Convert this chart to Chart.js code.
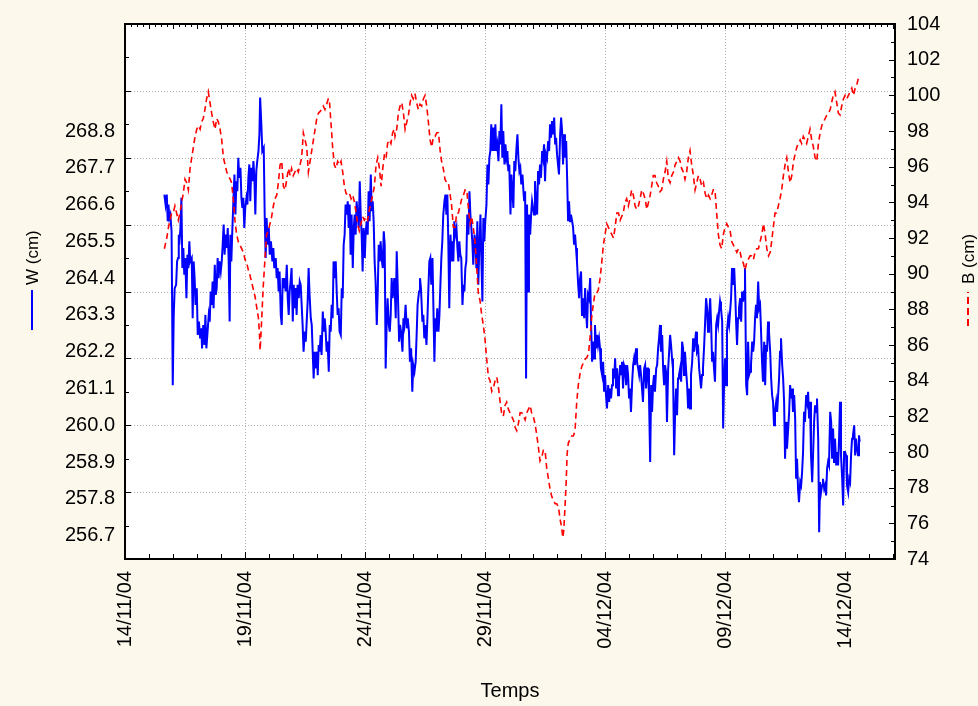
<!DOCTYPE html>
<html>
<head>
<meta charset="utf-8">
<title>W et B</title>
<script src="https://cdn.jsdelivr.net/npm/chart.js@4.4.1/dist/chart.umd.min.js"></script>
<style>
    html, body { margin: 0; padding: 0; background: #fcf8ec; }
    #wrap { width: 978px; height: 706px; }
</style>
</head>
<body>
<div id="wrap"><canvas id="chart" width="978" height="706"></canvas></div>
<script>
// temps en jours depuis le 14/11/04 00:00
const wTime = [
    1.64, 1.69, 1.74, 1.78, 1.81, 1.85, 1.89, 1.94, 1.99, 2.03,
    2.07, 2.13, 2.17, 2.21, 2.24, 2.26, 2.31, 2.35, 2.39, 2.43,
    2.47, 2.51, 2.56, 2.60, 2.64, 2.68, 2.72, 2.78, 2.82, 2.86,
    2.90, 2.94, 2.99, 3.03, 3.08, 3.13, 3.18, 3.21, 3.26, 3.31,
    3.35, 3.39, 3.44, 3.49, 3.53, 3.57, 3.61, 3.65, 3.69, 3.74,
    3.78, 3.82, 3.86, 3.90, 3.94, 3.99, 4.03, 4.07, 4.11, 4.15,
    4.19, 4.24, 4.28, 4.32, 4.36, 4.39, 4.43, 4.47, 4.51, 4.56,
    4.60, 4.64, 4.68, 4.72, 4.76, 4.81, 4.85, 4.89, 4.93, 4.97,
    5.01, 5.06, 5.10, 5.14, 5.18, 5.22, 5.26, 5.31, 5.35, 5.39,
    5.43, 5.47, 5.51, 5.56, 5.60, 5.63, 5.68, 5.72, 5.78, 5.82,
    5.86, 5.90, 5.94, 5.99, 6.03, 6.08, 6.14, 6.18, 6.22, 6.28,
    6.32, 6.36, 6.40, 6.44, 6.49, 6.53, 6.57, 6.61, 6.65, 6.69,
    6.74, 6.78, 6.82, 6.86, 6.90, 6.94, 6.99, 7.03, 7.07, 7.11,
    7.15, 7.19, 7.24, 7.28, 7.32, 7.36, 7.40, 7.44, 7.49, 7.53,
    7.57, 7.61, 7.65, 7.69, 7.74, 7.78, 7.82, 7.86, 7.90, 7.94,
    7.99, 8.03, 8.07, 8.11, 8.15, 8.19, 8.24, 8.28, 8.32, 8.36,
    8.40, 8.44, 8.49, 8.53, 8.57, 8.61, 8.65, 8.69, 8.74, 8.78,
    8.82, 8.86, 8.90, 8.94, 8.99, 9.03, 9.07, 9.11, 9.15, 9.19,
    9.24, 9.28, 9.32, 9.36, 9.40, 9.44, 9.49, 9.53, 9.57, 9.61,
    9.65, 9.69, 9.74, 9.78, 9.82, 9.86, 9.90, 9.94, 9.99, 10.03,
    10.07, 10.11, 10.15, 10.19, 10.24, 10.28, 10.32, 10.36, 10.40, 10.44,
    10.49, 10.53, 10.57, 10.61, 10.65, 10.69, 10.74, 10.78, 10.82, 10.86,
    10.90, 10.94, 10.99, 11.03, 11.07, 11.11, 11.15, 11.22, 11.28, 11.32,
    11.36, 11.42, 11.46, 11.50, 11.56, 11.60, 11.64, 11.69, 11.74, 11.78,
    11.83, 11.87, 11.92, 11.97, 12.01, 12.06, 12.11, 12.15, 12.19, 12.25,
    12.29, 12.33, 12.39, 12.43, 12.47, 12.51, 12.56, 12.60, 12.64, 12.68,
    12.72, 12.76, 12.81, 12.85, 12.89, 12.93, 12.97, 13.01, 13.06, 13.10,
    13.14, 13.18, 13.22, 13.26, 13.31, 13.35, 13.39, 13.43, 13.47, 13.51,
    13.56, 13.60, 13.64, 13.68, 13.72, 13.76, 13.81, 13.85, 13.89, 13.93,
    13.97, 14.01, 14.06, 14.10, 14.14, 14.18, 14.22, 14.26, 14.31, 14.35,
    14.39, 14.43, 14.47, 14.51, 14.56, 14.60, 14.64, 14.68, 14.72, 14.76,
    14.81, 14.85, 14.89, 14.93, 14.97, 15.01, 15.06, 15.10, 15.14, 15.18,
    15.22, 15.26, 15.31, 15.35, 15.39, 15.43, 15.47, 15.51, 15.56, 15.60,
    15.64, 15.68, 15.72, 15.76, 15.81, 15.85, 15.89, 15.93, 15.97, 16.01,
    16.06, 16.10, 16.14, 16.18, 16.22, 16.26, 16.31, 16.35, 16.39, 16.43,
    16.47, 16.51, 16.56, 16.60, 16.63, 16.67, 16.71, 16.75, 16.79, 16.83,
    16.88, 16.92, 16.96, 17.00, 17.04, 17.08, 17.13, 17.17, 17.21, 17.25,
    17.29, 17.33, 17.38, 17.42, 17.46, 17.50, 17.54, 17.58, 17.63, 17.67,
    17.71, 17.75, 17.79, 17.83, 17.88, 17.92, 17.96, 18.00, 18.04, 18.08,
    18.13, 18.17, 18.21, 18.25, 18.29, 18.33, 18.38, 18.42, 18.46, 18.50,
    18.54, 18.58, 18.63, 18.67, 18.71, 18.75, 18.79, 18.83, 18.88, 18.92,
    18.96, 19.00, 19.04, 19.08, 19.13, 19.17, 19.21, 19.25, 19.29, 19.33,
    19.38, 19.42, 19.46, 19.50, 19.54, 19.58, 19.63, 19.67, 19.71, 19.75,
    19.79, 19.83, 19.88, 19.92, 19.96, 20.00, 20.04, 20.08, 20.13, 20.17,
    20.21, 20.25, 20.29, 20.33, 20.38, 20.42, 20.46, 20.50, 20.54, 20.58,
    20.63, 20.67, 20.71, 20.75, 20.79, 20.83, 20.88, 20.92, 20.96, 21.00,
    21.04, 21.08, 21.13, 21.17, 21.21, 21.25, 21.29, 21.33, 21.38, 21.42,
    21.46, 21.50, 21.54, 21.58, 21.63, 21.67, 21.71, 21.75, 21.79, 21.83,
    21.88, 21.92, 21.96, 22.00, 22.04, 22.08, 22.13, 22.17, 22.21, 22.25,
    22.29, 22.33, 22.38, 22.42, 22.46, 22.50, 22.54, 22.58, 22.63, 22.67,
    22.71, 22.75, 22.79, 22.83, 22.88, 22.92, 22.96, 23.00, 23.04, 23.08,
    23.13, 23.17, 23.21, 23.25, 23.29, 23.33, 23.38, 23.42, 23.46, 23.50,
    23.54, 23.58, 23.63, 23.67, 23.71, 23.75, 23.79, 23.83, 23.88, 23.92,
    23.96, 24.00, 24.04, 24.08, 24.13, 24.17, 24.21, 24.25, 24.29, 24.33,
    24.38, 24.42, 24.46, 24.50, 24.54, 24.58, 24.63, 24.67, 24.71, 24.75,
    24.79, 24.83, 24.88, 24.92, 24.96, 25.00, 25.04, 25.08, 25.13, 25.17,
    25.21, 25.25, 25.29, 25.33, 25.38, 25.42, 25.46, 25.50, 25.54, 25.58,
    25.63, 25.67, 25.71, 25.75, 25.79, 25.83, 25.88, 25.92, 25.96, 26.00,
    26.04, 26.08, 26.13, 26.17, 26.21, 26.25, 26.29, 26.33, 26.38, 26.42,
    26.46, 26.50, 26.54, 26.58, 26.63, 26.67, 26.71, 26.75, 26.79, 26.83,
    26.88, 26.92, 26.96, 27.00, 27.04, 27.08, 27.13, 27.17, 27.21, 27.25,
    27.29, 27.33, 27.38, 27.42, 27.46, 27.50, 27.54, 27.58, 27.63, 27.67,
    27.71, 27.75, 27.79, 27.83, 27.88, 27.92, 27.96, 28.00, 28.04, 28.08,
    28.13, 28.17, 28.21, 28.25, 28.29, 28.33, 28.38, 28.42, 28.46, 28.50,
    28.54, 28.58, 28.63, 28.67, 28.71, 28.75, 28.79, 28.83, 28.88, 28.92,
    28.96, 29.00, 29.04, 29.08, 29.13, 29.17, 29.21, 29.25, 29.29, 29.33,
    29.38, 29.42, 29.46, 29.50, 29.54, 29.58, 29.63, 29.67, 29.71, 29.75,
    29.79, 29.83, 29.88, 29.92, 29.96, 30.00, 30.04, 30.08, 30.13, 30.17,
    30.21, 30.25, 30.29, 30.33, 30.38, 30.42, 30.46, 30.50, 30.54, 30.58,
    30.61
];
const wValues = [
    266.9, 266.6, 266.9, 266.1, 266.6, 266.2, 266.3, 265.8, 261.2, 263.3,
    264.1, 264.2, 264.9, 265.0, 265.7, 265.4, 265.9, 266.8, 264.7, 265.3,
    264.5, 265.0, 263.8, 265.1, 264.7, 265.5, 264.9, 265.0, 263.2, 264.9,
    264.4, 263.6, 264.1, 262.7, 263.1, 262.6, 262.9, 262.3, 263.0, 262.4,
    263.3, 262.3, 262.8, 263.3, 263.1, 264.0, 263.6, 264.3, 263.5, 264.8,
    263.9, 264.1, 265.0, 264.4, 264.9, 264.6, 264.9, 265.4, 266.0, 265.1,
    265.7, 265.3, 265.9, 264.9, 263.1, 265.7, 264.9, 265.8, 266.6, 267.5,
    266.3, 267.3, 267.0, 268.0, 267.4, 267.7, 266.8, 266.5, 266.8, 265.9,
    266.5, 266.8, 266.6, 267.4, 267.8, 266.7, 267.7, 267.3, 267.9, 267.4,
    266.3, 267.6, 267.9, 268.2, 268.7, 269.8, 269.0, 268.2, 268.3, 266.3,
    265.0, 266.2, 265.4, 265.9, 265.1, 265.5, 264.9, 265.3, 264.7, 265.0,
    264.4, 264.7, 264.0, 264.6, 263.3, 263.0, 264.4, 264.1, 264.4, 264.0,
    264.8, 263.8, 263.3, 264.0, 264.3, 264.7, 263.1, 264.2, 263.5, 264.1,
    263.3, 264.2, 263.8, 264.3, 264.2, 263.6, 263.0, 262.2, 262.8, 262.5,
    263.1, 263.7, 264.7, 263.9, 263.2, 263.0, 262.2, 261.4, 262.2, 261.7,
    262.2, 261.5, 262.4, 262.2, 262.7, 262.1, 263.4, 262.8, 263.2, 262.8,
    262.2, 262.5, 261.6, 263.0, 262.8, 263.6, 263.2, 264.9, 264.4, 264.9,
    264.0, 263.3, 263.5, 262.8, 262.7, 264.1, 263.8, 265.4, 265.7, 266.6,
    266.3, 266.7, 265.9, 266.6, 265.1, 266.3, 264.7, 265.9, 266.3, 265.7,
    266.7, 266.3, 265.9, 267.3, 266.3, 265.7, 264.6, 265.9, 265.0, 265.8,
    266.1, 265.7, 267.0, 266.1, 267.5, 266.4, 266.7, 266.1, 264.9, 264.3,
    263.0, 264.0, 265.4, 264.9, 265.5, 265.0, 264.7, 265.8, 265.4, 261.7,
    263.0, 263.8, 263.0, 262.8, 263.3, 264.4, 263.8, 264.4, 263.2, 265.2,
    264.2, 262.5, 263.0, 262.8, 262.2, 263.2, 263.0, 263.6, 262.9, 263.2,
    262.8, 261.9, 262.3, 261.0, 261.8, 261.6, 261.9, 262.7, 263.6, 264.0,
    264.4, 264.1, 263.1, 263.3, 262.6, 263.0, 262.4, 263.2, 264.1, 264.9,
    265.0, 264.2, 265.0, 263.5, 261.9, 263.2, 262.8, 263.5, 262.8, 263.3,
    264.2, 265.0, 265.5, 266.3, 266.7, 266.9, 266.3, 266.9, 265.5, 263.5,
    265.7, 264.9, 265.5, 264.9, 266.1, 265.7, 265.9, 265.3, 264.9, 265.5,
    265.1, 265.0, 263.6, 264.2, 264.0, 264.7, 264.9, 266.3, 265.7, 267.0,
    266.3, 265.9, 265.5, 264.8, 265.7, 265.5, 264.7, 266.1, 264.2, 265.3,
    266.3, 264.9, 263.7, 266.2, 265.5, 266.1, 266.6, 267.8, 267.2, 268.0,
    268.2, 269.0, 268.2, 268.9, 268.2, 269.0, 268.2, 268.4, 267.9, 268.8,
    268.4, 269.6, 268.0, 268.8, 267.8, 268.4, 268.0, 268.2, 267.6, 267.8,
    266.3, 267.5, 267.0, 266.5, 267.9, 267.6, 268.3, 268.7, 268.0, 267.6,
    267.7, 267.2, 267.5, 267.0, 266.7, 267.0, 261.4, 266.6, 264.0, 266.3,
    265.7, 266.3, 266.7, 266.5, 266.3, 267.3, 266.6, 266.3, 267.6, 267.2,
    267.8, 267.4, 268.2, 268.0, 268.4, 267.3, 268.1, 268.0, 268.5, 268.2,
    269.0, 268.6, 269.1, 268.7, 269.2, 268.4, 268.6, 268.1, 267.8, 267.5,
    268.7, 269.2, 268.8, 267.8, 268.7, 268.0, 268.5, 267.4, 266.1, 266.7,
    266.1, 266.3, 266.1, 265.9, 265.4, 265.7, 265.3, 264.9, 264.2, 263.8,
    264.4, 264.6, 263.3, 263.8, 263.2, 264.1, 263.4, 262.9, 263.9, 263.8,
    264.4, 263.0, 261.9, 262.5, 262.0, 263.0, 262.3, 262.7, 262.4, 262.6,
    262.3, 261.7, 261.5, 261.9, 261.0, 261.5, 260.9, 260.5, 261.2, 260.7,
    261.1, 260.8, 261.2, 261.7, 261.4, 262.0, 261.1, 261.7, 260.9, 261.3,
    261.8, 261.5, 261.9, 261.1, 261.8, 261.7, 261.2, 261.8, 261.5, 260.8,
    261.1, 260.4, 261.3, 261.8, 262.0, 261.8, 262.3, 261.9, 261.7, 261.5,
    261.8, 261.5, 261.1, 260.7, 261.7, 261.8, 261.1, 261.7, 261.7, 260.9,
    258.9, 261.2, 260.4, 261.2, 261.5, 261.0, 261.7, 261.8, 262.3, 262.6,
    263.0, 262.2, 262.7, 261.7, 261.2, 261.8, 261.6, 260.1, 261.7, 262.2,
    262.7, 262.4, 262.0, 261.7, 259.1, 260.4, 261.1, 260.3, 261.4, 261.5,
    261.7, 261.3, 262.5, 262.3, 261.5, 262.2, 261.6, 261.2, 260.5, 261.1,
    260.5, 261.5, 261.9, 262.6, 262.2, 262.5, 262.8, 262.2, 262.3, 261.7,
    261.4, 261.1, 261.5, 261.7, 262.4, 263.1, 263.8, 263.5, 262.8, 263.2,
    263.8, 263.0, 261.9, 262.2, 261.7, 261.3, 263.0, 263.2, 263.0, 263.4,
    263.7, 263.5, 263.1, 259.9, 261.3, 262.0, 261.2, 262.8, 263.2, 263.0,
    263.4, 263.8, 264.7, 264.2, 264.7, 264.0, 263.1, 262.4, 263.2, 263.5,
    263.8, 263.1, 264.0, 263.7, 264.0, 264.7, 261.2, 260.9, 262.5, 261.5,
    261.6, 261.8, 262.5, 262.2, 262.5, 263.2, 263.6, 263.2, 264.3, 263.5,
    263.6, 262.8, 261.9, 261.3, 262.5, 261.2, 262.4, 262.2, 263.1, 262.8,
    262.2, 261.4, 260.9, 260.7, 260.0, 260.4, 260.7, 260.4, 260.9, 261.4,
    262.2, 262.6, 261.8, 261.4, 260.7, 259.0, 260.1, 259.3, 259.9, 260.4,
    261.2, 260.8, 261.1, 260.4, 260.9, 260.2, 258.4, 259.0, 258.1, 257.7,
    258.3, 258.2, 258.6, 259.2, 260.4, 260.1, 260.9, 260.7, 261.0, 260.2,
    260.7, 259.1, 258.3, 259.2, 260.1, 260.6, 260.4, 260.8, 259.6, 256.8,
    258.3, 258.0, 258.2, 258.4, 258.1, 258.2, 257.9, 258.7, 258.9, 258.8,
    260.4, 260.1, 259.0, 259.9, 258.9, 259.6, 258.8, 259.2, 258.8, 259.6,
    260.7, 259.1, 258.4, 257.6, 259.2, 259.2, 259.1, 258.2, 258.0, 258.4,
    258.3, 259.1, 259.6, 259.7, 260.0, 259.1, 259.6, 259.3, 259.1, 259.7,
    259.5
];

const bTime = [
    1.64, 1.74, 1.81, 1.88, 1.94, 2.01, 2.08, 2.15, 2.22, 2.29,
    2.36, 2.43, 2.50, 2.57, 2.64, 2.71, 2.78, 2.85, 2.92, 2.99,
    3.06, 3.13, 3.19, 3.26, 3.33, 3.40, 3.47, 3.54, 3.61, 3.68,
    3.75, 3.82, 3.89, 3.96, 4.03, 4.10, 4.17, 4.24, 4.31, 4.38,
    4.44, 4.51, 4.58, 4.65, 4.72, 4.79, 4.86, 4.93, 5.00, 5.07,
    5.14, 5.21, 5.28, 5.35, 5.42, 5.49, 5.56, 5.60, 5.63, 5.69,
    5.76, 5.83, 5.90, 5.97, 6.04, 6.11, 6.18, 6.25, 6.32, 6.39,
    6.46, 6.53, 6.60, 6.67, 6.74, 6.81, 6.88, 6.94, 7.01, 7.08,
    7.15, 7.22, 7.29, 7.36, 7.43, 7.50, 7.57, 7.64, 7.71, 7.78,
    7.85, 7.92, 7.99, 8.06, 8.13, 8.19, 8.26, 8.33, 8.40, 8.47,
    8.51, 8.58, 8.65, 8.72, 8.79, 8.86, 8.93, 9.00, 9.07, 9.14,
    9.21, 9.28, 9.35, 9.42, 9.49, 9.56, 9.63, 9.69, 9.76, 9.83,
    9.90, 9.97, 10.04, 10.11, 10.18, 10.25, 10.32, 10.39, 10.46, 10.53,
    10.60, 10.67, 10.74, 10.81, 10.88, 10.94, 11.01, 11.08, 11.15, 11.22,
    11.25, 11.32, 11.39, 11.46, 11.53, 11.60, 11.67, 11.74, 11.81, 11.88,
    11.94, 12.01, 12.08, 12.15, 12.22, 12.29, 12.36, 12.43, 12.50, 12.57,
    12.64, 12.71, 12.78, 12.85, 12.92, 12.99, 13.06, 13.13, 13.19, 13.26,
    13.33, 13.40, 13.47, 13.54, 13.61, 13.68, 13.75, 13.82, 13.89, 13.96,
    14.03, 14.10, 14.17, 14.24, 14.31, 14.38, 14.44, 14.51, 14.58, 14.65,
    14.72, 14.79, 14.86, 14.93, 15.00, 15.07, 15.14, 15.21, 15.28, 15.35,
    15.42, 15.49, 15.56, 15.63, 15.69, 15.76, 15.83, 15.90, 15.97, 16.04,
    16.11, 16.18, 16.25, 16.32, 16.39, 16.46, 16.53, 16.60, 16.67, 16.74,
    16.81, 16.88, 16.94, 17.01, 17.08, 17.15, 17.22, 17.29, 17.36, 17.43,
    17.50, 17.57, 17.64, 17.71, 17.78, 17.85, 17.92, 17.99, 18.06, 18.13,
    18.19, 18.24, 18.28, 18.33, 18.38, 18.42, 18.47, 18.54, 18.61, 18.68,
    18.75, 18.82, 18.89, 18.96, 19.03, 19.10, 19.17, 19.24, 19.31, 19.38,
    19.44, 19.51, 19.58, 19.65, 19.72, 19.79, 19.86, 19.93, 20.00, 20.07,
    20.14, 20.21, 20.28, 20.35, 20.42, 20.49, 20.56, 20.63, 20.69, 20.76,
    20.83, 20.90, 20.97, 21.04, 21.11, 21.18, 21.25, 21.32, 21.39, 21.46,
    21.53, 21.60, 21.67, 21.74, 21.81, 21.88, 21.94, 22.01, 22.08, 22.15,
    22.22, 22.29, 22.36, 22.43, 22.50, 22.57, 22.64, 22.71, 22.78, 22.85,
    22.92, 22.99, 23.06, 23.13, 23.19, 23.26, 23.33, 23.40, 23.47, 23.54,
    23.61, 23.68, 23.75, 23.82, 23.89, 23.96, 24.03, 24.10, 24.17, 24.24,
    24.31, 24.38, 24.44, 24.51, 24.58, 24.65, 24.72, 24.79, 24.86, 24.93,
    25.00, 25.07, 25.14, 25.21, 25.28, 25.35, 25.42, 25.49, 25.56, 25.63,
    25.69, 25.76, 25.83, 25.90, 25.97, 26.04, 26.11, 26.18, 26.25, 26.32,
    26.39, 26.46, 26.53, 26.60, 26.67, 26.74, 26.81, 26.88, 26.94, 27.01,
    27.08, 27.15, 27.22, 27.29, 27.36, 27.43, 27.50, 27.57, 27.64, 27.71,
    27.78, 27.85, 27.92, 27.99, 28.06, 28.13, 28.19, 28.26, 28.33, 28.40,
    28.47, 28.54, 28.61, 28.68, 28.75, 28.82, 28.89, 28.96, 29.03, 29.10,
    29.17, 29.24, 29.31, 29.38, 29.44, 29.51, 29.58, 29.65, 29.72, 29.79,
    29.86, 29.93, 30.00, 30.07, 30.14, 30.21, 30.28, 30.35, 30.42, 30.49,
    30.56, 30.61
];
const bValues = [
    91.4, 92.0, 92.6, 93.0, 93.4, 93.4, 93.8, 93.4, 93.0, 93.4,
    94.0, 94.5, 95.3, 95.1, 94.7, 95.9, 96.5, 97.1, 97.7, 98.1,
    98.3, 98.1, 98.5, 98.7, 99.2, 99.8, 100.2, 99.6, 99.0, 98.5,
    98.1, 98.7, 98.5, 98.1, 97.5, 96.5, 96.1, 95.7, 95.5, 95.3,
    95.1, 94.2, 93.0, 92.2, 91.8, 91.6, 91.4, 91.2, 90.8, 90.6,
    90.2, 89.9, 89.5, 89.1, 88.7, 88.1, 87.5, 86.7, 85.7, 87.3,
    89.3, 90.8, 92.2, 92.4, 92.8, 93.2, 93.8, 94.2, 94.4, 95.1,
    96.1, 96.3, 94.9, 94.7, 95.3, 95.9, 95.5, 95.9, 95.5, 95.7,
    95.9, 95.7, 96.1, 96.5, 97.9, 97.5, 97.1, 95.7, 96.3, 96.9,
    97.5, 98.1, 98.7, 99.0, 99.1, 99.2, 99.4, 99.2, 99.5, 99.8,
    99.8, 98.5, 97.1, 96.1, 95.9, 96.3, 96.1, 96.3, 95.7, 94.9,
    94.5, 94.4, 94.5, 94.2, 94.4, 94.0, 93.4, 92.8, 92.4, 92.8,
    93.2, 93.0, 93.2, 93.0, 93.6, 94.0, 94.4, 94.9, 96.1, 96.5,
    95.9, 94.9, 95.9, 96.7, 96.5, 97.3, 97.5, 97.3, 97.9, 98.1,
    97.7, 98.1, 99.0, 99.4, 99.6, 99.0, 98.1, 98.5, 98.9, 99.6,
    100.0, 99.8, 100.1, 99.6, 99.2, 99.5, 99.4, 99.8, 100.0, 99.4,
    98.5, 97.5, 97.1, 97.7, 97.7, 97.9, 97.9, 96.9, 96.3, 95.9,
    95.3, 95.1, 95.1, 94.5, 93.8, 92.6, 92.6, 93.4, 93.4, 93.8,
    94.2, 94.4, 94.7, 94.7, 93.6, 92.8, 93.2, 92.6, 91.8, 90.4,
    88.9, 88.5, 87.7, 87.1, 86.3, 85.2, 84.2, 84.0, 83.4, 83.6,
    84.0, 84.2, 83.6, 82.8, 82.2, 82.0, 82.6, 82.8, 82.4, 82.2,
    82.0, 81.8, 81.4, 81.2, 81.6, 82.2, 82.2, 82.0, 81.8, 82.2,
    82.4, 82.6, 82.2, 82.0, 81.6, 81.0, 80.3, 79.5, 79.7, 80.1,
    80.1, 79.1, 78.5, 77.9, 77.5, 77.3, 77.1, 77.1, 76.9, 76.2,
    75.8, 75.2, 75.6, 76.9, 78.3, 79.9, 80.5, 80.7, 80.9, 80.9,
    81.2, 82.8, 83.8, 84.4, 84.8, 85.0, 85.2, 85.3, 85.5, 86.5,
    87.5, 88.3, 88.9, 88.9, 89.1, 89.7, 90.6, 91.6, 92.2, 92.8,
    92.6, 92.4, 92.2, 92.0, 92.6, 93.4, 93.4, 93.0, 93.2, 93.4,
    94.0, 94.2, 93.8, 94.2, 94.7, 94.4, 93.8, 93.6, 93.8, 94.2,
    94.7, 94.5, 94.2, 93.6, 94.0, 94.4, 94.9, 95.5, 95.5, 95.1,
    94.9, 94.6, 94.7, 95.3, 95.7, 96.3, 95.3, 95.1, 95.5, 95.7,
    96.1, 96.3, 96.5, 96.3, 95.9, 95.7, 95.3, 95.7, 96.5, 96.9,
    96.1, 95.5, 94.7, 95.1, 95.5, 95.3, 94.9, 95.1, 94.5, 94.2,
    94.4, 94.2, 94.4, 94.7, 94.7, 93.4, 92.2, 91.6, 91.4, 92.2,
    92.6, 92.8, 92.6, 92.4, 91.8, 91.6, 91.4, 91.2, 91.4, 91.2,
    90.8, 90.6, 90.2, 90.6, 90.8, 91.0, 91.0, 90.8, 91.2, 91.4,
    91.4, 91.8, 92.2, 92.8, 92.2, 91.4, 91.0, 91.2, 91.8, 92.6,
    93.4, 93.4, 93.8, 94.2, 94.7, 95.5, 96.1, 96.5, 95.7, 95.1,
    95.5, 96.3, 96.7, 97.1, 97.3, 97.5, 97.3, 97.7, 97.5, 97.3,
    97.7, 98.1, 97.5, 97.1, 96.5, 96.3, 97.3, 97.9, 98.3, 98.5,
    98.7, 98.9, 99.0, 99.2, 99.6, 100.0, 100.2, 99.6, 99.0, 98.9,
    99.4, 99.8, 100.0, 99.8, 100.0, 100.2, 100.4, 100.0, 100.4, 100.6,
    101.0, 100.9
];

// axes
const xTicks = [0, 5, 10, 15, 20, 25, 30];
const xTickLabels = ["14/11/04", "19/11/04", "24/11/04", "29/11/04", "04/12/04", "09/12/04", "14/12/04"];
const wTickLabels = [256.7, 257.8, 258.9, 260.0, 261.1, 262.2, 263.3, 264.4, 265.5, 266.6, 267.7, 268.8];
const wGrid = [258, 260, 262, 264, 266, 268, 270];
const bTicks = [74, 76, 78, 80, 82, 84, 86, 88, 90, 92, 94, 96, 98, 100, 102, 104];

const FONT = "'Liberation Sans', Arial, sans-serif";

function line(ctx, x1, y1, x2, y2) {
    ctx.beginPath();
    ctx.moveTo(x1, y1);
    ctx.lineTo(x2, y2);
    ctx.stroke();
}

// fond, grille, cadre avec graduations intérieures, titres d'axes
const decor = {
    id: "decor",
    beforeDraw(chart) {
        const { ctx, chartArea: a } = chart;
        const sx = chart.scales.x, sy = chart.scales.y;
        ctx.save();
        ctx.fillStyle = "#fcf8ec";
        ctx.fillRect(0, 0, chart.width, chart.height);
        ctx.fillStyle = "#ffffff";
        ctx.fillRect(a.left, a.top, a.right - a.left, a.bottom - a.top);

        ctx.strokeStyle = "#b4b4b4";
        ctx.lineWidth = 1;
        ctx.setLineDash([1, 2]);
        wGrid.forEach(v => {
            const py = Math.round(sy.getPixelForValue(v)) + 0.5;
            line(ctx, a.left, py, a.right, py);
        });
        xTicks.slice(1).forEach(v => {
            const px = Math.round(sx.getPixelForValue(v)) + 0.5;
            line(ctx, px, a.top, px, a.bottom);
        });
        ctx.restore();
    },
    afterDatasetsDraw(chart) {
        const { ctx, chartArea: a } = chart;
        const sx = chart.scales.x, sy = chart.scales.y, sb = chart.scales.y1;
        ctx.save();
        ctx.strokeStyle = "#000000";
        ctx.lineWidth = 1;
        // graduations en bas (jours) et en haut (quarts de jour)
        for (let d = 0; d <= 32; d++) {
            const px = Math.round(sx.getPixelForValue(d)) + 0.5;
            line(ctx, px, a.bottom, px, a.bottom - (d % 5 === 0 ? 7 : 5));
        }
        for (let q = 0; q <= 128; q++) {
            const px = Math.round(sx.getPixelForValue(q / 4)) + 0.5;
            line(ctx, px, a.top, px, a.top + (q % 4 === 0 ? 5 : 3));
        }
        for (let w = 256; w <= 272; w++) {
            const py = Math.round(sy.getPixelForValue(w)) + 0.5;
            line(ctx, a.left, py, a.left + (w % 2 === 0 ? 6 : 4), py);
        }
        for (let b = 74; b <= 104; b++) {
            const py = Math.round(sb.getPixelForValue(b)) + 0.5;
            line(ctx, a.right, py, a.right - (b % 2 === 0 ? 6 : 4), py);
        }
        ctx.lineWidth = 2;
        ctx.strokeRect(a.left, a.top, a.right - a.left, a.bottom - a.top);
        ctx.restore();
    },
    afterDraw(chart) {
        const { ctx, chartArea: a } = chart;
        ctx.save();
        ctx.fillStyle = "#000000";
        ctx.font = "20px " + FONT;
        ctx.textAlign = "center";
        ctx.textBaseline = "middle";
        ctx.fillText("Temps", (a.left + a.right) / 2, 691);

        ctx.font = "17px " + FONT;
        ctx.textAlign = "left";
        // titre gauche : trait bleu puis "W (cm)", lu de bas en haut
        ctx.save();
        ctx.translate(32, 330);
        ctx.rotate(-Math.PI / 2);
        ctx.strokeStyle = "#0000ff";
        ctx.lineWidth = 2;
        line(ctx, 0, 0, 40, 0);
        ctx.fillText("W (cm)", 45, 1);
        ctx.restore();
        // titre droit : tirets rouges puis "B (cm)"
        ctx.save();
        ctx.translate(968, 326);
        ctx.rotate(-Math.PI / 2);
        ctx.strokeStyle = "#ff0000";
        ctx.lineWidth = 2;
        ctx.setLineDash([7, 4]);
        line(ctx, 0, 0, 34, 0);
        ctx.setLineDash([]);
        ctx.fillText("B (cm)", 42, 1);
        ctx.restore();
        ctx.restore();
    }
};

const ctx = document.getElementById("chart").getContext("2d");
new Chart(ctx, {
    type: "line",
    data: {
        datasets: [
            {
                label: "B (cm)",
                data: bTime.map((t, i) => ({ x: t, y: bValues[i] })),
                yAxisID: "y1",
                borderColor: "#ff0000",
                borderWidth: 1.6,
                borderDash: [6, 4],
                pointRadius: 0,
                tension: 0,
                fill: false,
                order: 1
            },
            {
                label: "W (cm)",
                data: wTime.map((t, i) => ({ x: t, y: wValues[i] })),
                yAxisID: "y",
                borderColor: "#0000ff",
                borderWidth: 2,
                pointRadius: 0,
                tension: 0,
                fill: false,
                order: 2
            }
        ]
    },
    options: {
        responsive: false,
        animation: false,
        devicePixelRatio: 1,
        layout: { padding: { top: 20, left: 0, right: 0, bottom: 0 } },
        plugins: { legend: { display: false }, tooltip: { enabled: false } },
        scales: {
            x: {
                type: "linear",
                min: 0,
                max: 32.08,
                afterBuildTicks: s => { s.ticks = xTicks.map(v => ({ value: v })); },
                afterFit: s => { s.height = 147; },
                grid: { display: false, drawTicks: false },
                border: { display: false },
                ticks: {
                    autoSkip: false,
                    minRotation: 90,
                    maxRotation: 90,
                    padding: 12,
                    color: "#000000",
                    font: { family: FONT, size: 20 },
                    callback: (v, i) => xTickLabels[i]
                }
            },
            y: {
                type: "linear",
                position: "left",
                min: 256,
                max: 272,
                afterBuildTicks: s => { s.ticks = wTickLabels.map(v => ({ value: v })); },
                afterFit: s => { s.width = 125; },
                grid: { display: false, drawTicks: false },
                border: { display: false },
                ticks: {
                    autoSkip: false,
                    padding: 10,
                    color: "#000000",
                    font: { family: FONT, size: 20 },
                    callback: v => Number(v).toFixed(1)
                }
            },
            y1: {
                type: "linear",
                position: "right",
                min: 74,
                max: 104,
                afterBuildTicks: s => { s.ticks = bTicks.map(v => ({ value: v })); },
                afterFit: s => { s.width = 83; },
                grid: { display: false, drawTicks: false },
                border: { display: false },
                ticks: {
                    autoSkip: false,
                    padding: 12,
                    color: "#000000",
                    font: { family: FONT, size: 20 },
                    callback: v => String(v)
                }
            }
        }
    },
    plugins: [decor]
});
</script>
</body>
</html>
